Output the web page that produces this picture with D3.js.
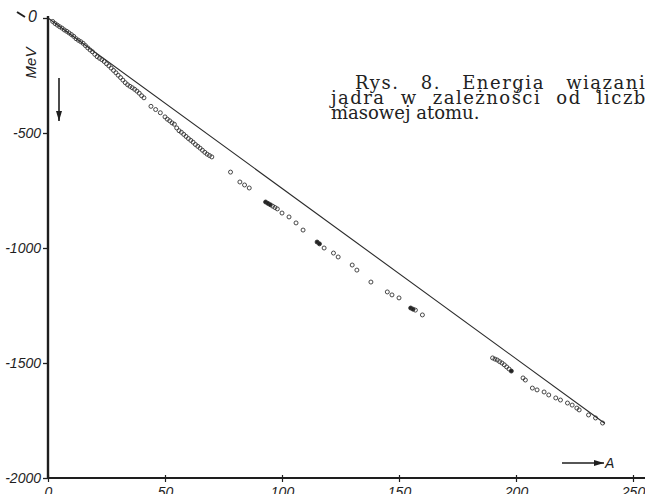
<!DOCTYPE html>
<html>
<head>
<meta charset="utf-8">
<script src="https://cdn.jsdelivr.net/npm/d3@7"></script>
<style>
  body { margin: 0; background: #fff; }
  svg { display: block; }
</style>
</head>
<body>
<div id="chart"></div>
<script>
// energia wiązania jądra vs liczba masowa
var w = 645, h = 494;

var yTicks = [0, -500, -1000, -1500, -2000];
var xTicks = [0, 50, 100, 150, 200, 250];

// liczba masowa A (odczyt z rysunku)
var massA = [2, 3, 4, 5, 6, 7, 8, 9, 10, 11, 12, 13, 14, 15, 16, 17, 18, 19, 20, 21,
  22, 23, 24, 25, 26, 27, 28, 29, 30, 31, 32, 33, 34, 35, 36, 37, 38, 39, 40, 41,
  44, 46, 48, 50, 51, 52, 53, 54, 55, 56, 57, 58, 59, 60, 61, 62, 63, 64, 65, 66,
  67, 68, 69, 70, 78, 82, 84, 86, 93, 94, 95, 96, 97, 98, 100, 103, 106, 109, 115,
  116, 118, 122, 124, 130, 132, 138, 145, 147, 150, 155, 156, 157, 160,
  190, 191, 192, 193, 194, 195, 196, 197, 198, 203, 204, 207, 209, 212, 214, 217,
  219, 222, 224, 226, 227, 231, 234, 237];
// energia wiązania [MeV]
var energy = [-15, -24, -31, -38, -44, -52, -58, -65, -72, -80, -90, -97, -103, -110,
  -120, -130, -139, -147, -158, -168, -175, -181, -189, -199, -208, -218, -228, -238,
  -249, -259, -270, -281, -290, -297, -303, -310, -318, -327, -338, -347,
  -384, -398, -412, -430, -440, -447, -456, -462, -478, -490, -497, -506, -515, -524,
  -532, -540, -550, -558, -566, -575, -584, -592, -598, -604, -670, -713, -726, -739,
  -800, -806, -812, -818, -824, -830, -848, -865, -891, -922, -974, -982, -1000,
  -1022, -1039, -1074, -1096, -1148, -1191, -1204, -1217, -1261, -1266, -1270, -1291,
  -1478, -1483, -1487, -1494, -1500, -1508, -1517, -1526, -1535, -1565, -1574, -1609,
  -1617, -1626, -1639, -1652, -1661, -1674, -1683, -1696, -1704, -1726, -1739, -1761];
// punkty zaczernione
var filledA = [93, 94, 95, 115, 116, 155, 156, 198];

// prosta porównawcza
var lineA = [0, 238];
var lineE = [0, -1763];

var x = d3.scaleLinear().domain([0, 250]).range([48, 633]);
var y = d3.scaleLinear().domain([0, -2000]).range([18, 478]);

var svg = d3.select("#chart")
    .append("svg")
    .attr("width", w)
    .attr("height", h);

var ink = "#1e1e1e";
var axisFont = "'Liberation Sans', Arial, sans-serif";

// y axis
var yAxis = svg.append("g")
    .attr("transform", "translate(" + x(0) + ",0)")
    .call(d3.axisLeft(y).tickValues(yTicks).tickSize(5).tickFormat(function(d) {
        return d === 0 ? "0" : d3.format("d")(d).replace("−", "-");
    }));
yAxis.select(".domain").remove();
yAxis.selectAll(".tick line").attr("stroke", ink).attr("stroke-width", 1.3);
yAxis.selectAll(".tick text")
    .attr("x", -7)
    .attr("fill", ink)
    .style("font-family", axisFont)
    .style("font-style", "italic")
    .style("font-size", "14px");
yAxis.selectAll(".tick").filter(function(d) { return d === 0; }).select("text")
    .attr("x", -11).attr("dy", "0.2em").style("font-size", "16px");

svg.append("line")
    .attr("x1", x(0)).attr("x2", x(0))
    .attr("y1", y(0) - 2).attr("y2", y(-2000) + 1)
    .attr("stroke", ink).attr("stroke-width", 2.4);

// x axis
var xAxis = svg.append("g")
    .attr("transform", "translate(0," + y(-2000) + ")")
    .call(d3.axisBottom(x).tickValues(xTicks).tickSize(4).tickFormat(d3.format("d")));
xAxis.select(".domain").remove();
xAxis.selectAll(".tick line").attr("stroke", ink).attr("stroke-width", 1.2).attr("y1", -3);
xAxis.selectAll(".tick text")
    .attr("y", 9)
    .attr("fill", ink)
    .style("font-family", axisFont)
    .style("font-style", "italic")
    .style("font-size", "14px");

svg.append("line")
    .attr("x1", x(0) - 1).attr("x2", w)
    .attr("y1", y(-2000)).attr("y2", y(-2000))
    .attr("stroke", ink).attr("stroke-width", 2.2);

// kreska przy zerze
svg.append("line")
    .attr("x1", 17).attr("y1", 12).attr("x2", 25).attr("y2", 17)
    .attr("stroke", ink).attr("stroke-width", 2);

// MeV
svg.append("text")
    .attr("transform", "translate(36,63) rotate(-90)")
    .attr("text-anchor", "middle")
    .attr("fill", ink)
    .style("font-family", axisFont)
    .style("font-style", "italic")
    .style("font-size", "15px")
    .text("MeV");

// strzałki
svg.append("defs").append("marker")
    .attr("id", "head")
    .attr("viewBox", "0 0 10 6")
    .attr("refX", 10).attr("refY", 3)
    .attr("markerWidth", 10).attr("markerHeight", 6)
    .attr("markerUnits", "userSpaceOnUse")
    .attr("orient", "auto")
    .append("path")
    .attr("d", "M0,0L10,3L0,6Z")
    .attr("fill", ink);

svg.append("line")
    .attr("x1", 59).attr("y1", 78).attr("x2", 59).attr("y2", 121)
    .attr("stroke", ink).attr("stroke-width", 1.6)
    .attr("marker-end", "url(#head)");

svg.append("line")
    .attr("x1", 562).attr("y1", 463).attr("x2", 604).attr("y2", 463)
    .attr("stroke", ink).attr("stroke-width", 1.4)
    .attr("marker-end", "url(#head)");

svg.append("text")
    .attr("x", 605).attr("y", 468)
    .attr("fill", ink)
    .style("font-family", axisFont)
    .style("font-style", "italic")
    .style("font-size", "14px")
    .text("A");

// prosta
var line = d3.line()
    .x(function(d) { return x(d[0]); })
    .y(function(d) { return y(d[1]); });

svg.append("path")
    .datum(d3.zip(lineA, lineE))
    .attr("d", line)
    .attr("fill", "none")
    .attr("stroke", "#2a2a2a")
    .attr("stroke-width", 1.1);

// punkty
svg.selectAll(".pt")
    .data(d3.zip(massA, energy))
    .enter()
    .append("circle")
    .attr("class", "pt")
    .attr("cx", function(d) { return x(d[0]); })
    .attr("cy", function(d) { return y(d[1]); })
    .attr("r", 2)
    .attr("fill", function(d) { return filledA.indexOf(d[0]) >= 0 ? "#222" : "none"; })
    .attr("stroke", "#333")
    .attr("stroke-width", 0.9);

// podpis (justowany)
var capText = ["Rys. 8. Energia wiązania", "jądra w zależności od liczby", "masowej atomu."];
var capX = [355, 331, 331];
var capY = [89, 104, 119];
var capLen = [302, 326, null];
var capWs = [14, 8, 0];

capText.forEach(function(s, i) {
    var t = svg.append("text")
        .attr("x", capX[i])
        .attr("y", capY[i])
        .attr("fill", "#222")
        .style("word-spacing", capWs[i] + "px")
        .style("font-family", "'DejaVu Serif', serif")
        .style("font-size", "18px")
        .text(s);
    if (capLen[i]) t.attr("textLength", capLen[i]).attr("lengthAdjust", "spacing");
});
</script>
</body>
</html>
